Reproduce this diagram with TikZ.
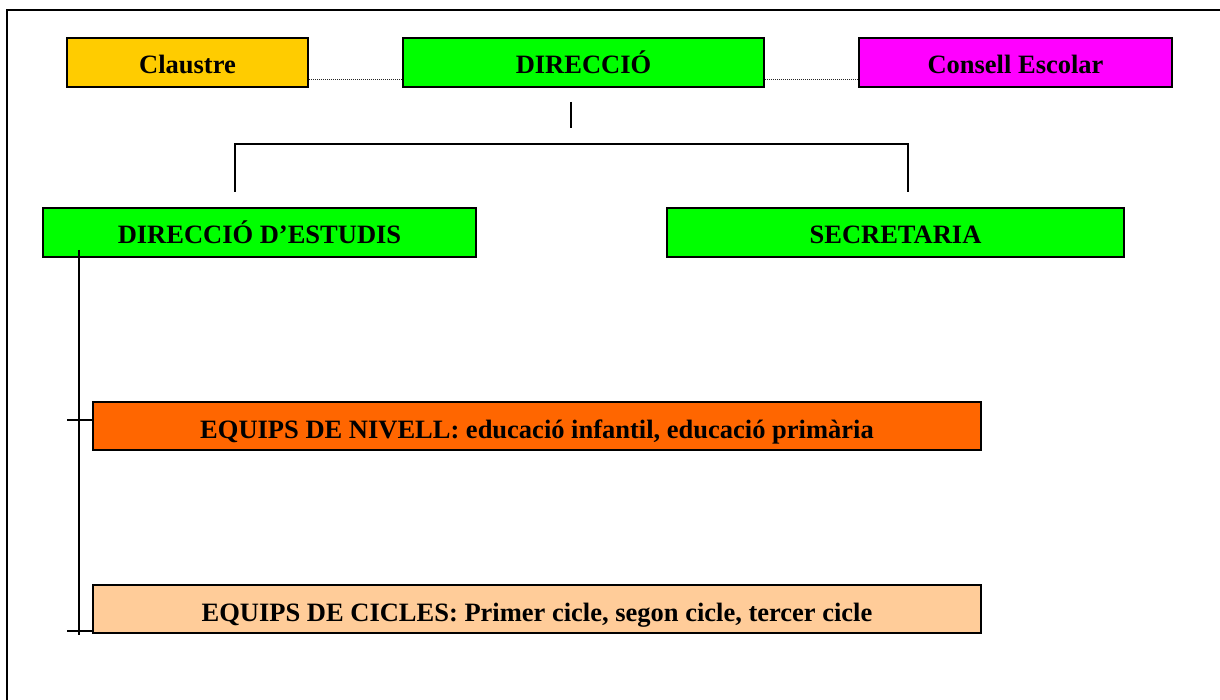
\documentclass[tikz,border=0pt]{standalone}
\usepackage{fontspec}
\setmainfont{Liberation Serif}
\definecolor{claustrecol}{HTML}{FFCC00}
\definecolor{verd}{HTML}{00FF00}
\definecolor{consellcol}{HTML}{FF00FF}
\definecolor{nivellcol}{HTML}{FF6600}
\definecolor{ciclescol}{HTML}{FFCC99}
\begin{document}
\begin{tikzpicture}[x=1pt,y=-1pt,
  orgbox/.style={draw=black, line width=1.5pt, rectangle, inner sep=0pt,
    minimum height=49pt, text height=35.5pt, text depth=13.5pt,
    font=\fontsize{26.5}{30}\selectfont\bfseries},
  link/.style={draw=black, line width=1.5pt},
  framestyle/.style={draw=black, line width=2pt},
  dotlink/.style={draw=black!85, line width=1pt, dash pattern=on 1pt off 1pt}]
\useasboundingbox (0,0) rectangle (1220,700);
\fill[white] (0,0) rectangle (1220,700);
% outer frame (only top and left edges are visible)
\coordinate (fbl) at (7,700);
\coordinate (ftl) at (7,10);
\coordinate (ftr) at (1220,10);
\draw[framestyle] (fbl) -- (ftl) -- (ftr);

% boxes
\node[orgbox, fill=claustrecol, minimum width=241pt] (claustre) at (187.5,62.5) {Claustre};
\node[orgbox, fill=verd, minimum width=361pt] (direccio) at (583.5,62.5) {DIRECCIÓ};
\node[orgbox, fill=consellcol, minimum width=313pt] (consell) at (1015.5,62.5) {Consell Escolar};
\node[orgbox, fill=verd, minimum width=433pt] (destudis) at (259.5,232.5) {DIRECCIÓ D’ESTUDIS};
\node[orgbox, fill=verd, minimum width=457pt] (secretaria) at (895.5,232.5) {SECRETARIA};
\node[orgbox, fill=nivellcol, minimum width=888pt, minimum height=48pt, text height=36pt, text depth=12pt] (nivell) at (537,426) {EQUIPS DE NIVELL: educació infantil, educació primària};
\node[orgbox, fill=ciclescol, minimum width=888pt, minimum height=48pt, text height=36pt, text depth=12pt] (cicles) at (537,609) {EQUIPS DE CICLES: Primer cicle, segon cicle, tercer cicle};

% dotted links
\draw[dotlink] ([yshift=8pt]claustre.south east) -- ([yshift=8pt]direccio.south west);
\draw[dotlink] ([yshift=8pt]direccio.south east) -- ([yshift=8pt]consell.south west);

% short stub under DIRECCIÓ
\coordinate (stubtop) at (571,102);
\coordinate (stubbot) at (571,128);
\draw[link] (stubtop) -- (stubbot);

% bracket
\coordinate (brl) at (235,192);
\coordinate (brlt) at (235,144);
\coordinate (brrt) at (908,144);
\coordinate (brr) at (908,192);
\draw[link] (brl) -- (brlt) -- (brrt) -- (brr);

% left spine
\coordinate (spinetop) at (79,250);
\coordinate (spinebot) at (79,635);
\draw[link] (spinetop) -- (spinebot);
\coordinate (tick1) at (67,420);
\coordinate (tick2) at (67,631);
\draw[link] (tick1) -- (tick1 -| nivell.west);
\draw[link] (tick2) -- (tick2 -| cicles.west);
\end{tikzpicture}
\end{document}
